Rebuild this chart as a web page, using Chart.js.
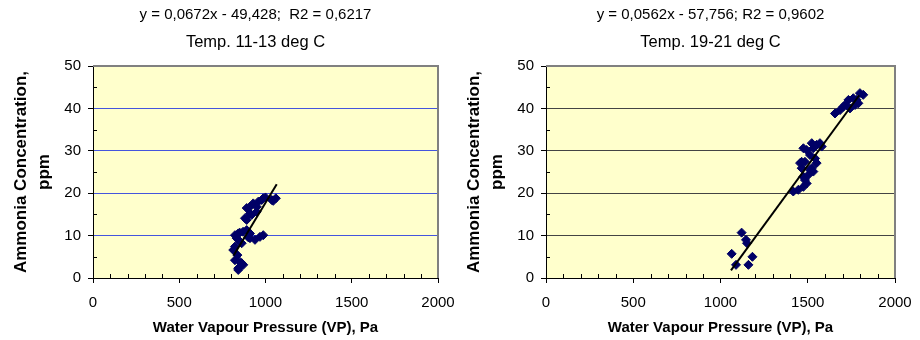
<!DOCTYPE html>
<html><head><meta charset="utf-8">
<script src="https://cdn.jsdelivr.net/npm/chart.js@4/dist/chart.umd.min.js"></script>
<style>
html,body{margin:0;padding:0;background:#fff;}
#wrap{position:relative;width:920px;height:340px;overflow:hidden;}
canvas{position:absolute;top:0;}
</style></head><body>
<div id="wrap">
<canvas id="c1" width="460" height="340" style="left:0"></canvas>
<canvas id="c2" width="468" height="340" style="left:452px"></canvas>
</div>
<script>
// ---- data ----
const lowTempVP  = [842,862,823,837,813,842,823,850,891,910,939,968,987,891,910,891,929,958,987,949,1036,1060,1045,910,920,881,949,862,833,823,900,852,842,871,910,842,870,978,1000];
const lowTempNH3 = [2.3,3.5,4.2,5.4,6.6,9.0,10.1,10.7,11.3,9.4,9.0,9.7,10.1,13.7,15.2,16.5,17.6,18.0,18.8,16.8,18.4,18.8,18.2,16.8,14.9,14.1,15.6,8.2,9.4,7.4,9.6,3.8,1.9,3.1,10.5,10.5,10.9,18.4,19.0];
const lowTempTrendVP  = [815, 1065];
const lowTempTrendNH3 = [5.3, 22.1];

const highTempVP  = [1064,1089,1121,1146,1152,1160,1183,1417,1446,1475,1494,1484,1475,1503,1532,1523,1465,1456,1484,1551,1542,1513,1475,1494,1532,1551,1570,1580,1523,1465,1513,1656,1685,1713,1733,1761,1790,1771,1799,1818,1742,1704,1780];
const highTempNH3 = [5.7,3.1,10.7,9.0,8.2,3.1,5.0,20.4,20.8,21.5,22.3,23.1,23.9,24.3,25.1,25.9,25.9,27.1,27.4,27.1,28.2,29.0,30.6,30.2,30.6,31.4,31.8,31.0,31.8,27.4,25.5,38.8,39.6,40.8,42.0,42.4,41.2,40.8,43.6,43.2,40.0,40.4,42.0];
const highTempTrendVP  = [1060, 1795];
const highTempTrendNH3 = [1.8, 43.1];

const equations = ['y = 0,0672x - 49,428;  R2 = 0,6217', 'y = 0,0562x - 57,756; R2 = 0,9602'];
const subtitles = ['Temp. 11-13 deg C', 'Temp. 19-21 deg C'];
const xTitle = 'Water Vapour Pressure (VP), Pa';
const yTitle = ['Ammonia Concentration,', 'ppm'];
const xTicks = [0, 500, 1000, 1500, 2000];
const yTicks = [0, 10, 20, 30, 40, 50];

const FONT = "'Liberation Sans', Arial, sans-serif";
const pts = (xs, ys) => xs.map((x, i) => ({x, y: ys[i]}));

const decor = {
  id: 'decor',
  beforeDraw(chart) {
    const {ctx, chartArea: a} = chart;
    ctx.save();
    ctx.fillStyle = '#FFFFCC';
    ctx.fillRect(a.left, a.top, a.right - a.left, a.bottom - a.top);
    ctx.restore();
  },
  beforeDatasetsDraw(chart) {
    const {ctx, chartArea: a, scales} = chart;
    ctx.save();
    ctx.strokeStyle = '#808080';
    ctx.lineWidth = 2;
    ctx.beginPath();
    ctx.moveTo(a.left, a.top); ctx.lineTo(a.right, a.top); ctx.lineTo(a.right, a.bottom);
    ctx.stroke();
    // minor ticks (inside)
    ctx.strokeStyle = '#000';
    ctx.lineWidth = 1;
    ctx.beginPath();
    for (let v = 100; v < 2000; v += 100) {
      if (v % 500 === 0) continue;
      const px = Math.round(scales.x.getPixelForValue(v)) + 0.5;
      ctx.moveTo(px, a.bottom); ctx.lineTo(px, a.bottom - 4);
    }
    for (let v = 5; v < 50; v += 10) {
      const py = Math.round(scales.y.getPixelForValue(v)) + 0.5;
      ctx.moveTo(a.left, py); ctx.lineTo(a.left + 4, py);
    }
    ctx.stroke();
    ctx.restore();
  },
  afterDraw(chart) {
    const {ctx, chartArea: a} = chart;
    const o = chart.options.plugins.decor;
    const cx = (a.left + a.right) / 2 - 10;
    ctx.save();
    ctx.fillStyle = '#000';
    ctx.textAlign = 'center';
    ctx.textBaseline = 'middle';
    ctx.font = '15px ' + FONT;
    ctx.fillText(o.eq, cx, 15);
    ctx.font = '16.5px ' + FONT;
    ctx.fillText(o.sub, cx, 42);
    ctx.restore();
  }
};

function makeChart(id, xs, ys, tx, ty, idx, gridColor, yWidth, yTitlePad, padRight) {
  return new Chart(document.getElementById(id), {
    type: 'scatter',
    data: {
      datasets: [
        { data: pts(tx, ty), showLine: true, borderColor: '#000', borderWidth: 2, pointRadius: 0 },
        { data: pts(xs, ys), pointStyle: 'rectRot', pointRadius: 4.5, backgroundColor: '#000066', borderColor: '#000066', borderWidth: 1 }
      ]
    },
    options: {
      responsive: false, animation: false,
      layout: { padding: { top: 66, right: padRight, bottom: 0, left: 0 } },
      plugins: { legend: { display: false }, tooltip: { enabled: false },
        decor: { eq: equations[idx], sub: subtitles[idx] } },
      scales: {
        x: {
          type: 'linear', min: 0, max: 2000,
          afterBuildTicks: s => { s.ticks = xTicks.map(v => ({value: v})); },
          afterFit: s => { s.height = 62; s.paddingLeft = 0; s.paddingRight = 0; },
          ticks: { font: { family: FONT, size: 15 }, color: '#000', padding: 11, maxRotation: 0, callback: v => String(v) },
          grid: { drawOnChartArea: false, drawTicks: true, tickLength: 5, tickColor: '#000' },
          border: { color: '#000', width: 1 },
          title: { display: true, text: xTitle, color: '#000', font: { family: FONT, size: 15, weight: 'bold' }, padding: { top: 0, bottom: 3 } }
        },
        y: {
          type: 'linear', min: 0, max: 50,
          afterBuildTicks: s => { s.ticks = yTicks.map(v => ({value: v})); },
          afterFit: s => { s.width = yWidth; },
          ticks: { font: { family: FONT, size: 15 }, color: '#000', padding: 7, callback: v => String(v) },
          grid: { color: c => (c.tick && (c.tick.value === 0 || c.tick.value === 50)) ? 'rgba(0,0,0,0)' : gridColor,
                  lineWidth: 1, drawTicks: true, tickLength: 5, tickColor: '#000' },
          border: { color: '#000', width: 1 },
          title: { display: true, text: yTitle, color: '#000', font: { family: FONT, size: 17, weight: 'bold', lineHeight: '23px' }, padding: { top: yTitlePad, bottom: 0 } }
        }
      }
    },
    plugins: [decor]
  });
}

makeChart('c1', lowTempVP, lowTempNH3, lowTempTrendVP, lowTempTrendNH3, 0, '#4455dd', 93, 9.5, 22);
makeChart('c2', highTempVP, highTempNH3, highTempTrendVP, highTempTrendNH3, 1, '#444444', 94, 10.5, 25);
</script>
</body></html>
